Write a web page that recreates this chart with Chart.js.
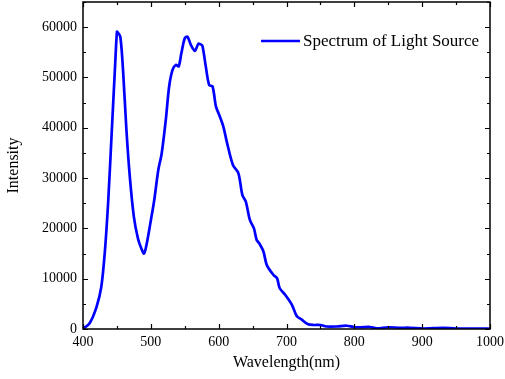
<!DOCTYPE html>
<html>
<head>
<meta charset="utf-8">
<script src="https://cdn.jsdelivr.net/npm/chart.js@4"></script>
<style>
  html, body { margin: 0; padding: 0; background: #fff; }
  #wrap { width: 505px; height: 379px; }
</style>
</head>
<body>
<div id="wrap"><canvas id="chart"></canvas></div>
<script>
// spectrum
const wavelengths = [400, 410, 420, 427, 432, 437, 442, 447, 450, 451, 455, 459, 464, 469, 475, 481, 486, 490, 494, 499, 505, 511, 516, 522, 527, 532, 537, 541, 545, 550, 554, 559, 565, 570, 573, 576, 581, 586, 591, 596, 601, 607, 612, 621, 629, 635, 640, 646, 652, 656, 660, 666, 671, 681, 686, 690, 698, 708, 715, 722, 731, 740, 750, 759, 774, 789, 799, 809, 823, 833, 850, 867, 882, 901, 931, 950, 990, 1000];
const intensity = [0, 1200, 4400, 8400, 15000, 25000, 38200, 51500, 59100, 59000, 58100, 51500, 39600, 30300, 22300, 18000, 16000, 15000, 17000, 20800, 25600, 31600, 34900, 41500, 48200, 51500, 52500, 52200, 54800, 57800, 58100, 56500, 55300, 56700, 56600, 56300, 52200, 48500, 48200, 44200, 42500, 40200, 37200, 32600, 31000, 26600, 25300, 21700, 20000, 17700, 17000, 15400, 12700, 10700, 10100, 8100, 6800, 4800, 2600, 1900, 1000, 800, 800, 500, 500, 650, 400, 350, 400, 150, 350, 250, 250, 100, 250, 100, 100, 50];
const seriesLabel = 'Spectrum of Light Source';
const xTicks = [400, 500, 600, 700, 800, 900, 1000];
const yTicks = [0, 10000, 20000, 30000, 40000, 50000, 60000];

const font = 'Liberation Serif';

// inward major/minor ticks, closed frame, legend inside plot
const frame = {
  id: 'frame',
  afterDraw(chart) {
    const { ctx, chartArea: a, scales: { x, y } } = chart;
    ctx.save();
    ctx.strokeStyle = '#000';
    ctx.lineWidth = 1.5;
    ctx.strokeRect(a.left, a.top, a.right - a.left, a.bottom - a.top);
    ctx.lineWidth = 1.2;
    ctx.beginPath();
    for (let v = 400; v <= 1000; v += 50) {
      const px = Math.round(x.getPixelForValue(v)) + 0.5;
      const len = v % 100 === 0 ? 5 : 3;
      ctx.moveTo(px, a.bottom); ctx.lineTo(px, a.bottom - len);
      ctx.moveTo(px, a.top); ctx.lineTo(px, a.top + len);
    }
    for (let v = 0; v <= 65000; v += 5000) {
      const py = Math.round(y.getPixelForValue(v)) + 0.5;
      const len = v % 10000 === 0 ? 5 : 3;
      ctx.moveTo(a.left, py); ctx.lineTo(a.left + len, py);
      ctx.moveTo(a.right, py); ctx.lineTo(a.right - len, py);
    }
    ctx.stroke();

    // legend
    const ly = 41;
    ctx.strokeStyle = '#0000ff';
    ctx.lineWidth = 2.5;
    ctx.beginPath();
    ctx.moveTo(261, ly); ctx.lineTo(300, ly);
    ctx.stroke();
    ctx.fillStyle = '#000';
    ctx.font = '17px "' + font + '"';
    ctx.textBaseline = 'middle';
    ctx.fillText(chart.data.datasets[0].label, 303, ly + 1);
    ctx.restore();
  }
};

new Chart(document.getElementById('chart'), {
  type: 'line',
  data: {
    datasets: [{
      label: seriesLabel,
      data: wavelengths.map((w, i) => ({ x: w, y: intensity[i] })),
      borderColor: '#0000ff',
      borderWidth: 2.7,
      pointRadius: 0,
      tension: 0.3,
      fill: false
    }]
  },
  options: {
    responsive: true,
    maintainAspectRatio: false,
    animation: false,
    layout: { padding: { top: 2, right: 15, left: 0, bottom: 0 } },
    plugins: { legend: { display: false }, tooltip: { enabled: false } },
    scales: {
      x: {
        type: 'linear',
        min: 400, max: 1000,
        afterBuildTicks: s => { s.ticks = xTicks.map(v => ({ value: v })); },
        afterFit: s => { s.height = 50; s.paddingLeft = 0; s.paddingRight = 0; },
        grid: { display: false, drawTicks: false },
        border: { display: false },
        ticks: { color: '#000', padding: 5, maxRotation: 0, callback: v => String(v), font: { family: font, size: 14 } },
        title: { display: true, text: 'Wavelength(nm)', color: '#000', padding: { top: 0, bottom: 7 }, font: { family: font, size: 16 } }
      },
      y: {
        min: 0, max: 65000,
        afterBuildTicks: s => { s.ticks = yTicks.map(v => ({ value: v })); },
        afterFit: s => { s.width = 83; s.paddingTop = 0; s.paddingBottom = 0; },
        grid: { display: false, drawTicks: false },
        border: { display: false },
        ticks: { color: '#000', padding: 6, callback: v => String(v), font: { family: font, size: 14 } },
        title: { display: true, text: 'Intensity', color: '#000', padding: { bottom: 9 }, font: { family: font, size: 16 } }
      }
    }
  },
  plugins: [frame]
});
</script>
</body>
</html>
